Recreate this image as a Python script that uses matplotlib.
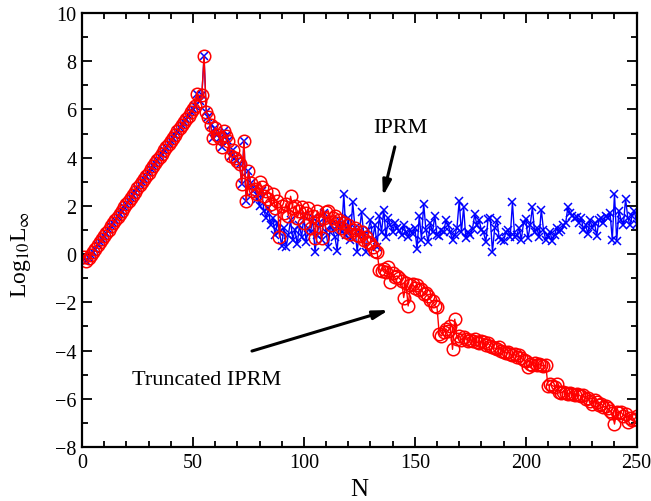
import numpy as np
import matplotlib
matplotlib.use("Agg")
import matplotlib.pyplot as plt
from matplotlib.ticker import MultipleLocator

plt.rcParams['font.family'] = ['Liberation Serif', 'DejaVu Serif']
plt.rcParams['mathtext.fontset'] = 'stix'

# shared values (both methods identical) for N = 1..77
shared_head = [-0.10, -0.30, -0.17, -0.04, 0.09, 0.22, 0.36, 0.49, 0.62, 0.75,
               0.88, 1.01, 1.15, 1.28, 1.41, 1.54, 1.67, 1.80, 1.94, 2.07,
               2.20, 2.33, 2.46, 2.59, 2.73, 2.86, 2.99, 3.12, 3.25, 3.38,
               3.52, 3.65, 3.78, 3.91, 4.04, 4.17, 4.31, 4.44, 4.57, 4.70,
               4.83, 4.96, 5.10, 5.23, 5.36, 5.49, 5.62, 5.75, 5.89, 6.02,
               6.15, 6.65, 6.35, 6.60, 8.20, 5.90, 5.70, 5.35, 4.80, 5.25,
               4.95, 4.80, 4.45, 5.10, 4.90, 4.70, 4.05, 4.30, 4.00, 3.85,
               3.75, 2.90, 4.70, 2.20, 3.45, 2.95, 2.60]

# Truncated IPRM, N = 78..250
trunc_tail = [2.7, 2.5, 3.0, 2.8, 2.4, 2.6, 2.3, 2.1, 2.5, 1.9,
              2.2, 0.7, 2.0, 1.7, 2.1, 1.6, 2.4, 1.9, 2.0, 1.5,
              1.8, 1.95, 1.3, 1.7, 1.9, 1.1, 1.6, 0.65, 1.8, 1.4,
              0.65, 1.5, 1.75, 1.8, 1.2, 1.5, 1.6, 1.3, 1.4, 1.1,
              1.3, 0.9, 1.2, 0.85, 1.0, 1.1, 0.8, 0.75, 0.9, 0.6,
              0.7, 0.5, 0.45, 0.3, 0.15, 0.1, -0.65, -0.7, -0.6, -0.75,
              -0.55, -1.15, -0.8, -0.95, -0.9, -1.0, -1.1, -1.8, -1.2, -2.15,
              -1.3, -1.25, -1.4, -1.3, -1.5, -1.45, -1.65, -1.6, -1.75, -1.9,
              -1.95, -2.15, -2.2, -3.3, -3.4, -3.25, -3.1, -3.2, -3.0, -3.95,
              -2.7, -3.5, -3.4, -3.55, -3.45, -3.5, -3.6, -3.55, -3.6, -3.5,
              -3.65, -3.7, -3.6, -3.65, -3.75, -3.7, -3.8, -3.85, -3.9, -3.95,
              -3.85, -4.0, -4.05, -4.1, -4.05, -4.15, -4.2, -4.15, -4.25, -4.2,
              -4.3, -4.4, -4.45, -4.7, -4.55, -4.6, -4.5, -4.6, -4.55, -4.6,
              -4.65, -4.6, -5.45, -5.4, -5.45, -5.5, -5.4, -5.7, -5.75, -5.7,
              -5.75, -5.8, -5.75, -5.8, -5.85, -5.8, -5.85, -5.9, -5.85, -6.0,
              -5.95, -6.1, -6.2, -6.05, -6.15, -6.25, -6.2, -6.35, -6.3, -6.4,
              -6.5, -6.6, -7.05, -6.55, -6.6, -6.55, -6.7, -6.65, -6.95, -6.8,
              -6.9, -6.85, -6.7]

# IPRM, N = 78..250
iprm_tail = [2.7, 2.3, 2.0, 2.6, 1.8, 1.5, 1.9, 1.2, 1.5, 0.8,
             1.3, 0.9, 0.35, 1.1, 0.3, 0.8, 1.4, 0.6, 1.0, 0.4,
             1.2, 0.7, 1.6, 0.5, 1.1, 0.9, 1.5, 0.1, 0.8, 1.3,
             0.6, 1.7, 0.9, 0.3, 1.2, 1.0, 0.7, 0.15, 1.4, 0.9,
             2.5, 0.8, 1.5, 0.6, 2.15, 1.1, 0.1, 0.9, 1.75, 0.8,
             0.1, 1.0, 1.4, 0.6, 1.2, 0.3, 1.6, 0.9, 1.85, 0.7,
             1.5, 1.2, 0.9, 1.3, 1.1, 0.95, 0.8, 1.2, 0.9, 0.7,
             1.0, 0.85, 1.1, 0.2, 1.6, 0.6, 2.1, 1.0, 0.5, 1.3,
             0.9, 1.6, 0.8, 0.75, 1.0, 0.9, 1.4, 1.2, 0.9, 0.6,
             0.8, 1.1, 2.2, 0.9, 1.95, 0.65, 0.9, 0.8, 1.05, 1.65,
             1.2, 1.4, 1.0, 0.9, 0.5, 1.45, 1.5, 0.1, 1.1, 1.4,
             0.7, 0.6, 0.55, 0.9, 1.0, 0.7, 2.15, 0.7, 0.8, 1.1,
             0.6, 1.3, 1.45, 0.65, 1.2, 1.95, 0.9, 1.1, 0.7, 1.85,
             1.0, 0.6, 0.75, 0.9, 0.55, 0.8, 1.1, 0.9, 1.0, 1.2,
             1.3, 1.95, 1.7, 1.6, 1.5, 1.55, 1.3, 1.5, 1.0, 1.2,
             0.85, 1.4, 1.1, 1.3, 0.75, 1.4, 1.5, 1.3, 1.6, 1.5,
             1.7, 0.6, 2.5, 0.55, 1.8, 1.4, 1.2, 2.3, 1.5, 1.2,
             1.6, 1.8, 1.25]

iprm = shared_head + iprm_tail
truncated = shared_head + trunc_tail
n_iprm = np.arange(1, len(iprm) + 1)
n_trunc = np.arange(1, len(truncated) + 1)

fig = plt.figure(figsize=(6.51, 5.02), dpi=100)
ax = fig.add_axes([0.126, 0.1076, 0.852, 0.8644])

ax.plot(n_iprm, iprm, color='blue', lw=1.0, marker='x', ms=6, mew=1.1)
ax.plot(n_trunc, truncated, color='red', lw=1.0, marker='o', ms=9,
        mfc='none', mec='red', mew=1.1)

ax.set_xlim(0, 250)
ax.set_ylim(-8, 10)
ax.xaxis.set_major_locator(MultipleLocator(50))
ax.xaxis.set_minor_locator(MultipleLocator(10))
ax.yaxis.set_major_locator(MultipleLocator(2))
ax.yaxis.set_minor_locator(MultipleLocator(1))
ax.tick_params(which='both', direction='in', top=True, right=True,
               labelsize=14.5, width=1.3)
ax.tick_params(which='major', length=7, pad=4)
ax.tick_params(which='minor', length=4)
for s in ax.spines.values():
    s.set_linewidth(1.6)

ax.set_xlabel('N', fontsize=18, labelpad=5)
ax.set_ylabel(r'Log$_{10}$L$_{\infty}$', fontsize=17)
ax.yaxis.set_label_coords(-0.088, 0.445)

arrow = dict(arrowstyle='-|>,head_length=0.9,head_width=0.25', lw=2.2,
             color='black', shrinkA=0, shrinkB=0)
ax.annotate('', xy=(135.6, 2.4), xytext=(141.0, 4.45), arrowprops=arrow)
ax.text(143.7, 5.25, 'IPRM', fontsize=16, ha='center', va='center')
ax.annotate('', xy=(138.3, -2.32), xytext=(76.6, -4.02), arrowprops=arrow)
ax.text(56.3, -5.22, 'Truncated IPRM', fontsize=16, ha='center', va='center')

fig.savefig('out.png', dpi=100)
